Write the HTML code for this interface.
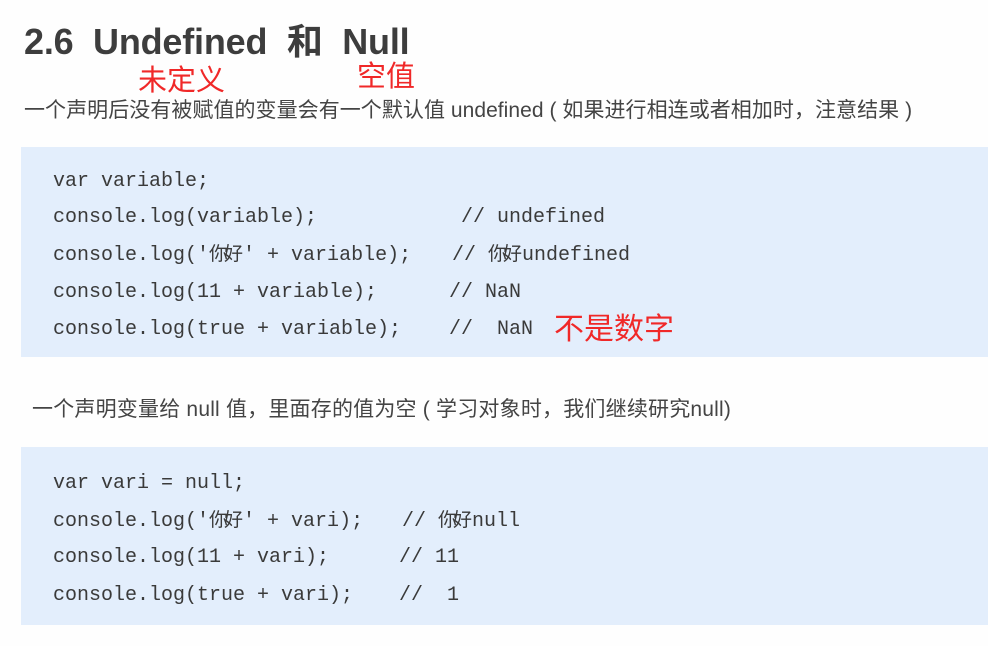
<!DOCTYPE html>
<html><head><meta charset="utf-8"><style>
body{margin:0;width:988px;height:646px;background:#fefefe;position:relative;overflow:hidden;font-family:"Liberation Sans","Noto Sans CJK SC",sans-serif;color:#444}
.a{position:absolute;white-space:pre}
.blk{position:absolute;left:21px;right:0;background:#e3eefc}
.c{position:absolute;white-space:pre;font-family:"Liberation Mono","Noto Sans CJK SC",monospace;font-size:20px;color:#3a3a3a;line-height:24px}
.c span{font-size:19px;letter-spacing:-4px;margin-right:4px}
.r{position:absolute;white-space:pre;color:#f02828;font-family:"Noto Sans CJK SC",sans-serif}
</style></head><body>
<div class="a" style="left:24px;top:13px;font-size:36px;font-weight:bold;color:#3d3d3d;letter-spacing:-0.2px">2.6&nbsp; Undefined&nbsp; 和&nbsp; Null</div>
<div class="r" style="left:138px;top:58px;font-size:29px;line-height:40px">未定义</div>
<div class="r" style="left:357px;top:54px;font-size:29px;line-height:40px">空值</div>
<div class="a" style="left:24px;top:96px;font-size:21px;line-height:30px;letter-spacing:0.05px">一个声明后没有被赋值的变量会有一个默认值 undefined ( 如果进行相连或者相加时，注意结果 )</div>
<div class="blk" style="top:147px;height:210px"></div>
<div class="c" style="left:53px;top:170px">var variable;</div>
<div class="c" style="left:53px;top:206px">console.log(variable);</div>
<div class="c" style="left:461px;top:206px">// undefined</div>
<div class="c" style="left:53px;top:243px">console.log('<span>你好</span>' + variable);</div>
<div class="c" style="left:452px;top:243px">// <span>你好</span>undefined</div>
<div class="c" style="left:53px;top:281px">console.log(11 + variable);</div>
<div class="c" style="left:449px;top:281px">// NaN</div>
<div class="c" style="left:53px;top:318px">console.log(true + variable);</div>
<div class="c" style="left:449px;top:318px">//  NaN</div>
<div class="r" style="left:554px;top:306px;font-size:30px;line-height:40px">不是数字</div>
<div class="a" style="left:32px;top:395px;font-size:21px;line-height:30px;letter-spacing:0.2px">一个声明变量给 null 值，里面存的值为空 ( 学习对象时，我们继续研究null)</div>
<div class="blk" style="top:447px;height:178px"></div>
<div class="c" style="left:53px;top:472px">var vari = null;</div>
<div class="c" style="left:53px;top:509px">console.log('<span>你好</span>' + vari);</div>
<div class="c" style="left:402px;top:509px">// <span>你好</span>null</div>
<div class="c" style="left:53px;top:546px">console.log(11 + vari);</div>
<div class="c" style="left:399px;top:546px">// 11</div>
<div class="c" style="left:53px;top:584px">console.log(true + vari);</div>
<div class="c" style="left:399px;top:584px">//  1</div>
</body></html>
